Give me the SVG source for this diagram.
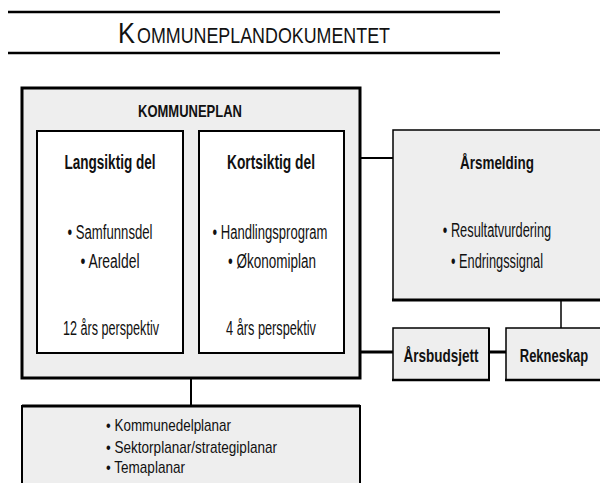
<svg xmlns="http://www.w3.org/2000/svg" width="600" height="483" viewBox="0 0 600 483">
<style>
text{font-family:"Liberation Sans",Arial,sans-serif;fill:#111}
.b{font-weight:bold}
.h{font-size:20px;text-anchor:middle}
.t{font-size:20px;text-anchor:middle}
.l{font-size:17px}
.grey{fill:#eeeeee;stroke:#000}
.white{fill:#ffffff;stroke:#000;stroke-width:2}
.conn line{stroke:#000}
</style>
<rect width="600" height="483" fill="#fff"/>
<g id="title">
<line x1="8" y1="12" x2="500" y2="12" stroke="#000" stroke-width="2.5"/>
<line x1="8" y1="53" x2="500" y2="53" stroke="#000" stroke-width="2.5"/>
<text x="118" y="43" textLength="17" lengthAdjust="spacingAndGlyphs" style="font-size:29px">K</text>
<text x="137" y="43" textLength="253" lengthAdjust="spacingAndGlyphs" style="font-size:22px">OMMUNEPLANDOKUMENTET</text>
</g>
<g class="conn">
<line x1="360" y1="158" x2="393" y2="158" stroke-width="2"/>
<line x1="360" y1="352" x2="393" y2="352" stroke-width="3"/>
<line x1="489" y1="352" x2="506" y2="352" stroke-width="3"/>
<line x1="561" y1="300" x2="561" y2="328" stroke-width="1.5"/>
<line x1="191" y1="378" x2="191" y2="406" stroke-width="2"/>
</g>
<g id="kommuneplan">
<rect x="22" y="88" width="338" height="290" class="grey" stroke-width="3"/>
<text x="190" y="117" class="b" style="font-size:17px;text-anchor:middle" textLength="104" lengthAdjust="spacingAndGlyphs">KOMMUNEPLAN</text>
</g>
<g id="langsiktig">
<rect x="37" y="131" width="146" height="222" class="white"/>
<text x="110" y="169" class="b h" textLength="91" lengthAdjust="spacingAndGlyphs">Langsiktig del</text>
<text x="110" y="239" class="t" textLength="85" lengthAdjust="spacingAndGlyphs">• Samfunnsdel</text>
<text x="110" y="268" class="t" textLength="59" lengthAdjust="spacingAndGlyphs">• Arealdel</text>
<text x="111" y="335" class="t" textLength="96" lengthAdjust="spacingAndGlyphs">12 års perspektiv</text>
</g>
<g id="kortsiktig">
<rect x="199" y="131" width="145" height="222" class="white"/>
<text x="271" y="169" class="b h" textLength="88" lengthAdjust="spacingAndGlyphs">Kortsiktig del</text>
<text x="270" y="239" class="t" textLength="115" lengthAdjust="spacingAndGlyphs">• Handlingsprogram</text>
<text x="272" y="268" class="t" textLength="88" lengthAdjust="spacingAndGlyphs">• Økonomiplan</text>
<text x="271" y="335" class="t" textLength="90" lengthAdjust="spacingAndGlyphs">4 års perspektiv</text>
</g>
<g id="planar">
<path d="M22 483 V406 H360 V483" class="grey" stroke-width="2"/>
<line x1="22" y1="406" x2="360" y2="406" stroke="#000" stroke-width="3"/>
<text x="106" y="431" class="l" textLength="125" lengthAdjust="spacingAndGlyphs">• Kommunedelplanar</text>
<text x="106" y="453" class="l" textLength="171" lengthAdjust="spacingAndGlyphs">• Sektorplanar/strategiplanar</text>
<text x="106" y="473" class="l" textLength="79" lengthAdjust="spacingAndGlyphs">• Temaplanar</text>
</g>
<g id="arsmelding">
<path d="M600 130 H393 V300 H600" class="grey" stroke-width="1.5"/>
<line x1="392" y1="300" x2="600" y2="300" stroke="#000" stroke-width="3"/>
<text x="497" y="169" class="b" style="font-size:18px;text-anchor:middle" textLength="74" lengthAdjust="spacingAndGlyphs">Årsmelding</text>
<text transform="translate(497 237) scale(0.64 1)" x="0" y="0" class="t">• Resultatvurdering</text>
<text x="497" y="268" class="t" textLength="92" lengthAdjust="spacingAndGlyphs">• Endringssignal</text>
</g>
<g id="arsbudsjett">
<rect x="393" y="328" width="96" height="52" class="grey" stroke-width="1.5"/>
<line x1="392" y1="380" x2="490" y2="380" stroke="#000" stroke-width="2.5"/>
<line x1="489" y1="328" x2="489" y2="381" stroke="#000" stroke-width="2"/>
<text x="441" y="362" class="b" style="font-size:18px;text-anchor:middle" textLength="75" lengthAdjust="spacingAndGlyphs">Årsbudsjett</text>
</g>
<g id="rekneskap">
<path d="M600 328 H506 V380 H600" class="grey" stroke-width="1.5"/>
<line x1="505" y1="380" x2="600" y2="380" stroke="#000" stroke-width="2.5"/>
<text transform="translate(554 362) scale(0.72 1)" x="0" y="0" class="b" style="font-size:18px;text-anchor:middle">Rekneskap</text>
</g>
</svg>
